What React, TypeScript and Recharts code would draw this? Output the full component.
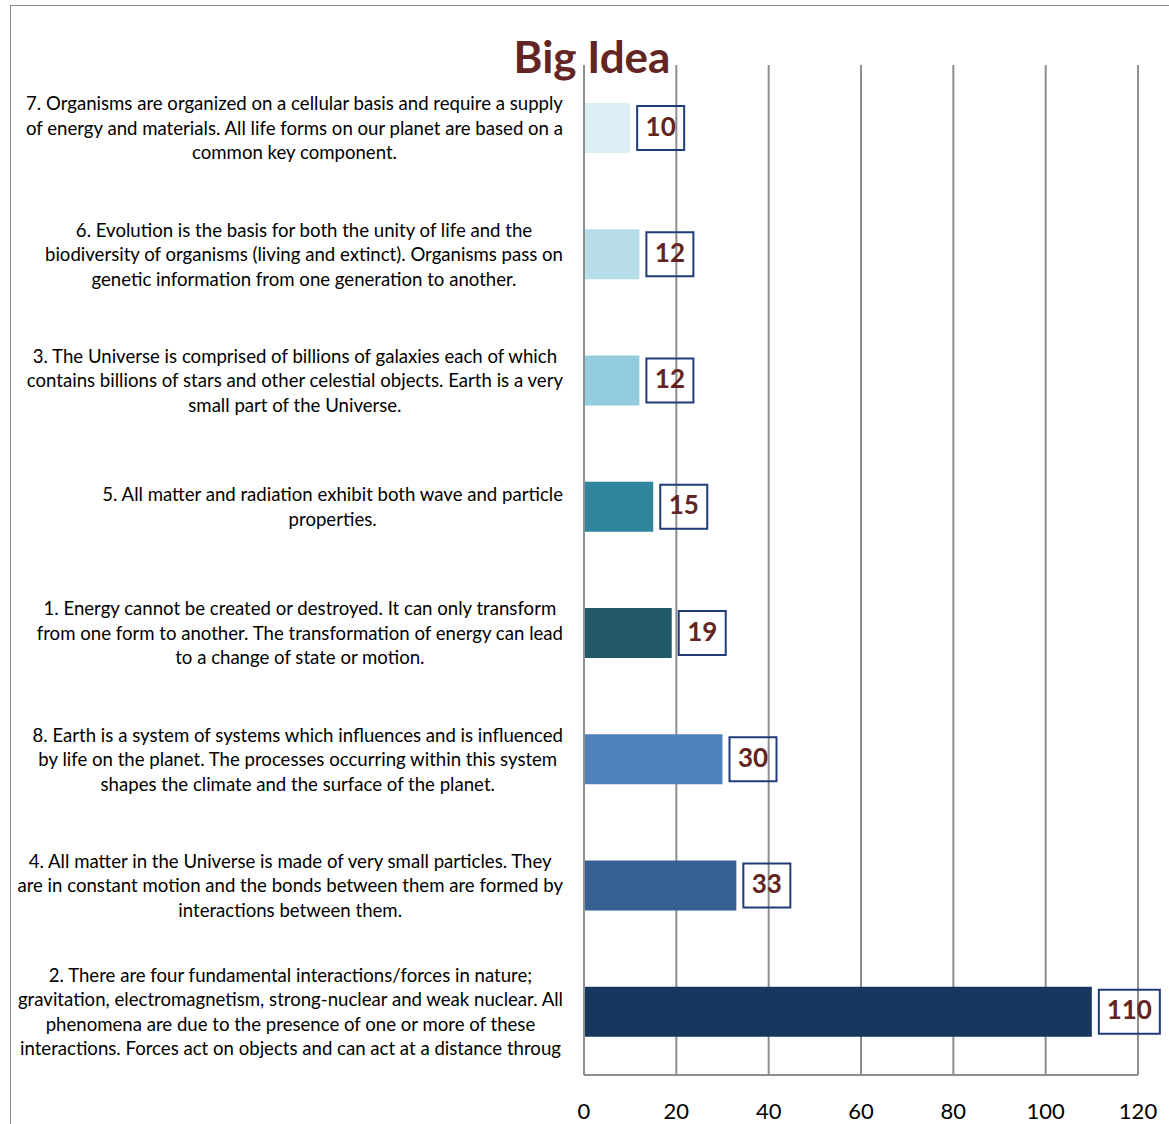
import { Bar, BarChart, CartesianGrid, Cell, LabelList, XAxis, YAxis } from "recharts";

const ideas = [
  "7. Organisms are organized on a cellular basis and require a supply\nof energy and materials. All life forms on our planet are based on a\ncommon key component.",
  "6. Evolution is the basis for both the unity of life and the\nbiodiversity of organisms (living and extinct). Organisms pass on\ngenetic information from one generation to another.",
  "3. The Universe is comprised of billions of galaxies each of which\ncontains billions of stars and other celestial objects. Earth is a very\nsmall part of the Universe.",
  "5. All matter and radiation exhibit both wave and particle\nproperties.",
  "1. Energy cannot be created or destroyed. It can only transform\nfrom one form to another. The transformation of energy can lead\nto a change of state or motion.",
  "8. Earth is a system of systems which influences and is influenced\nby life on the planet. The processes occurring within this system\nshapes the climate and the surface of the planet.",
  "4. All matter in the Universe is made of very small particles. They\nare in constant motion and the bonds between them are formed by\ninteractions between them.",
  "2. There are four fundamental interactions/forces in nature;\ngravitation, electromagnetism, strong-nuclear and weak nuclear. All\nphenomena are due to the presence of one or more of these\ninteractions. Forces act on objects and can act at a distance throug",
];
const counts = [10, 12, 12, 15, 19, 30, 33, 110];
const barColors = ["#DAEEF3", "#B7DEE8", "#93CDDD", "#31859C", "#215967", "#4F81BD", "#376092", "#17375E"];
const xTicks = [0, 20, 40, 60, 80, 100, 120];

const data = ideas.map((name, i) => ({ name, value: counts[i] }));

const FONT = "Lato, 'Open Sans', sans-serif";
const GRID = "#8E8E8E";

function IdeaTick({ x, y, payload }: any) {
  const lines = String(payload.value).split("\n");
  const lineH = 24.5;
  const h = lines.length * lineH;
  return (
    <foreignObject x={x - 590} y={y - h / 2} width={577} height={h}>
      <div style={{ display: "flex", justifyContent: "flex-end" }}>
        <div
          style={{
            textAlign: "center",
            fontFamily: FONT,
            fontSize: 18.6,
            lineHeight: `${lineH}px`,
            color: "#000",
            whiteSpace: "nowrap",
          }}
        >
          {lines.map((l, i) => (
            <div key={i}>{l}</div>
          ))}
        </div>
      </div>
    </foreignObject>
  );
}

function BoxLabel({ x, y, width, height, value }: any) {
  const txt = String(value);
  const w = 14 * txt.length + 19;
  const bh = 44;
  const left = x + width + 7;
  const cy = y + height / 2;
  return (
    <g>
      <rect x={left} y={cy - bh / 2} width={w} height={bh} fill="none" stroke="#1F3C78" strokeWidth={2} />
      <text
        x={left + w / 2}
        y={cy + 1}
        textAnchor="middle"
        dominantBaseline="middle"
        fontFamily={FONT}
        fontWeight={700}
        fontSize={26}
        fill="#632523"
      >
        {txt}
      </text>
    </g>
  );
}

export default function App() {
  return (
    <div style={{ position: "absolute", left: 0, top: 0, width: 1169, height: 1124, background: "#fff", overflow: "hidden" }}>
      <div
        style={{
          position: "absolute",
          left: 10,
          top: 5,
          width: 1170,
          height: 1130,
          borderLeft: "1.5px solid #8E8E8E",
          borderTop: "1.5px solid #8E8E8E",
        }}
      />
      <BarChart
        width={1169}
        height={1124}
        data={data}
        layout="vertical"
        margin={{ top: 65, right: 31, left: 0, bottom: 19 }}
        style={{ position: "absolute", left: 0, top: 0 }}
      >
        <CartesianGrid horizontal={false} stroke={GRID} strokeWidth={2} />
        <XAxis
          type="number"
          domain={[0, 120]}
          ticks={xTicks}
          tickLine={false}
          axisLine={{ stroke: GRID, strokeWidth: 2 }}
          tick={{ fill: "#000", fontSize: 22, fontFamily: FONT }}
          tickMargin={22}
        />
        <YAxis
          type="category"
          dataKey="name"
          width={584}
          tickLine={false}
          axisLine={{ stroke: GRID, strokeWidth: 2 }}
          tick={<IdeaTick />}
          interval={0}
        />
        <Bar dataKey="value" barSize={50} isAnimationActive={false}>
          {data.map((d, i) => (
            <Cell key={d.name} fill={barColors[i]} />
          ))}
          <LabelList dataKey="value" content={<BoxLabel />} />
        </Bar>
      </BarChart>
      <div
        style={{
          position: "absolute",
          left: 592,
          top: 28,
          transform: "translateX(-50%)",
          fontFamily: FONT,
          fontWeight: 700,
          fontSize: 44,
          color: "#632523",
          lineHeight: "56px",
          whiteSpace: "nowrap",
        }}
      >
        Big Idea
      </div>
    </div>
  );
}
